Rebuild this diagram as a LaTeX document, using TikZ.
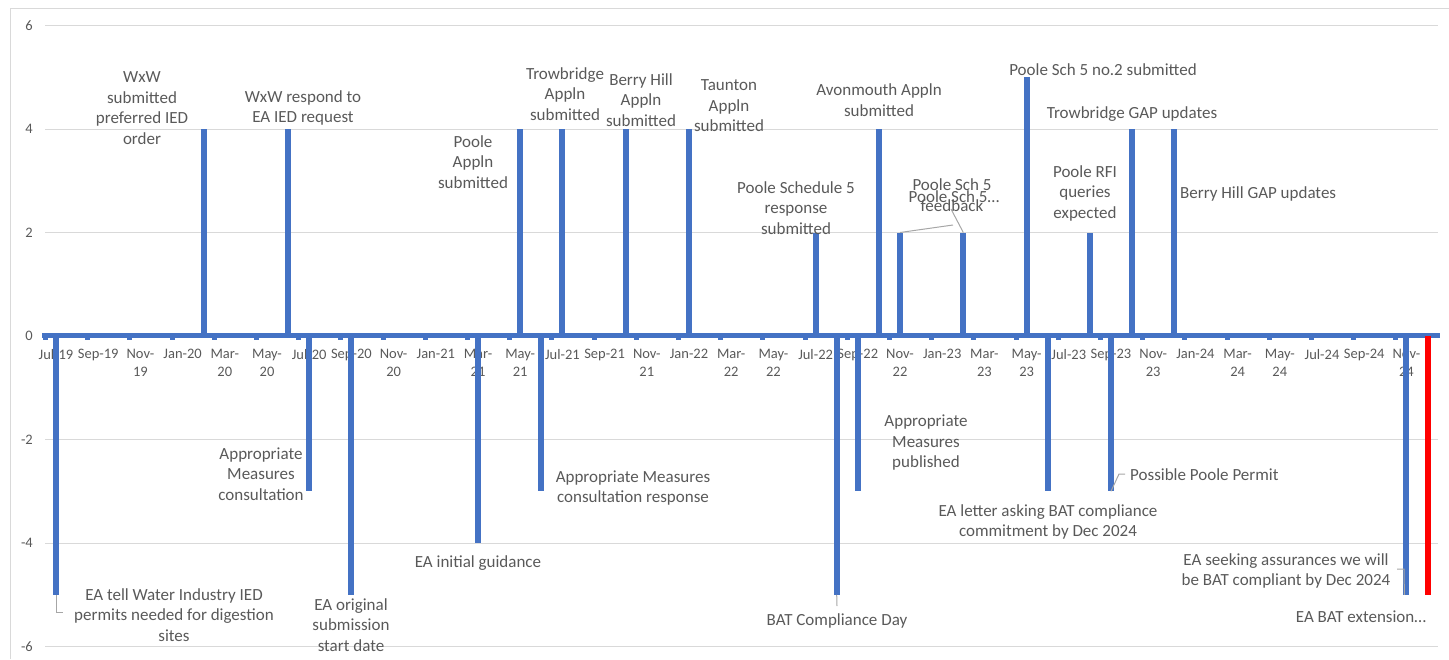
\documentclass[tikz,border=0pt]{standalone}
\usepackage{fontspec}
\setmainfont{Carlito}
\usepackage{tikz}

\definecolor{barblue}{HTML}{4472C4}
\definecolor{txtgray}{HTML}{595959}
\definecolor{gridgray}{HTML}{D9D9D9}
\definecolor{leadgray}{HTML}{A6A6A6}

\tikzset{
  bar/.style={line width=6pt, draw=barblue},
  gridline/.style={draw=gridgray, line width=1pt},
  leader/.style={draw=leadgray, line width=1pt},
  lbl/.style={text=txtgray, align=center, inner sep=0pt, font=\fontsize{17}{20.5}\selectfont},
  axlbl/.style={text=txtgray, align=center, inner sep=0pt, font=\fontsize{14.5}{18}\selectfont},
}

\begin{document}
\begin{tikzpicture}[x=1pt, y=-1pt]
            \useasboundingbox (0,0) rectangle (1449,659);
            % Frame
            \draw[gridgray] (10,659) -- (10,8) -- (1449,8);

            % Gridlines and values
            \foreach \v [count=\k] in {6,4,...,-6} {
                \draw[gridline] (45,{336-51.75*\v}) -- (1438,{336-51.75*\v});
                \node[axlbl, anchor=east] (yl\k) at (33,{336-51.75*\v}) {\v};
            }

            % Months
            \foreach \m/\t in {0/Jul-19, 2/Sep-19, 4/{Nov-\\19}, 6/Jan-20, 8/{Mar-\\20}, 10/{May-\\20},
                12/Jul-20, 14/Sep-20, 16/{Nov-\\20}, 18/Jan-21, 20/{Mar-\\21}, 22/{May-\\21},
                24/Jul-21, 26/Sep-21, 28/{Nov-\\21}, 30/Jan-22, 32/{Mar-\\22}, 34/{May-\\22},
                36/Jul-22, 38/Sep-22, 40/{Nov-\\22}, 42/Jan-23, 44/{Mar-\\23}, 46/{May-\\23},
                48/Jul-23, 50/Sep-23, 52/{Nov-\\23}, 54/Jan-24, 56/{Mar-\\24}, 58/{May-\\24},
                60/Jul-24, 62/Sep-24, 64/{Nov-\\24}} {
                \node[axlbl, anchor=north] (ax\m) at ({56+21.1*\m},349) {\t};
            }

            % Axis
            \draw[line width=5pt, barblue] (42,335.5) -- (1440,335.5);
            \foreach \k in {0,...,32} {
                \draw[line width=5pt, barblue] ({45.5+42.2*\k},336) -- ++(0,4);
            }

            % Bars
            \foreach \m/\v in {0/-5, 7/4, 11/4, 12/-3, 14/-5, 20/-4, 22/4, 23/-3, 24/4, 27/4, 30/4,
                36/2, 37/-5, 38/-3, 39/4, 40/2, 43/2, 46/5, 47/-3, 49/2, 50/-3, 51/4, 53/4, 64/-5} {
                \draw[bar] ({56+21.1*\m},336) -- ({56+21.1*\m},{336-51.75*\v}) coordinate (end\m);
            }
            \draw[bar, draw=red] ({56+21.1*65},336) -- ({56+21.1*65},{336+51.75*5}) coordinate (end65);

            % Leaders
            \coordinate (k0) at (56,612);
            \coordinate (k0b) at (63,612);
            \draw[leader] (end0) -- (k0) -- (k0b);
            \coordinate (k37) at (837,606);
            \draw[leader] (end37) -- (k37);
            \coordinate (k40) at (953,225);
            \draw[leader] (end40) -- (k40);
            \coordinate (k43) at (951,209);
            \draw[leader] (end43) -- (k43);
            \coordinate (k50) at (1119,474);
            \coordinate (k50b) at (1125,474);
            \draw[leader] (end50) -- (k50) -- (k50b);
            \coordinate (k64) at (1404,569);
            \coordinate (k64b) at (1397,569);
            \draw[leader] ([xshift=-2pt]end64) -- (k64) -- (k64b);

            % Labels above
            \node[lbl] (lFeb20) at (142,108) {WxW\\submitted\\preferred IED\\order};
            \node[lbl] (lJun20) at (303,108) {WxW respond to\\EA IED request};
            \node[lbl] (lMay21) at (473,162) {Poole\\Appln\\submitted};
            \node[lbl] (lJul21) at (565,94) {Trowbridge\\Appln\\submitted};
            \node[lbl] (lOct21) at (641,100) {Berry Hill\\Appln\\submitted};
            \node[lbl] (lJan22) at (729,106) {Taunton\\Appln\\submitted};
            \node[lbl] (lJul22) at (796,208) {Poole Schedule 5\\response\\submitted};
            \node[lbl] (lOct22) at (879,100) {Avonmouth Appln\\submitted};
            \node[lbl] (lFeb23) at (952,195) {Poole Sch 5\\feedback};
            \node[lbl] (lNov22) at (954,197) {Poole Sch 5…};
            \node[lbl] (lMay23) at (1103,70) {Poole Sch 5 no.2 submitted};
            \node[lbl] (lAug23) at (1085,193) {Poole RFI\\queries\\expected};
            \node[lbl] (lOct23) at (1132,114) {Trowbridge GAP updates};
            \node[lbl, anchor=west] (lDec23) at (1180,194) {Berry Hill GAP updates};

            % Labels below
            \node[lbl] (lJul19) at (174,615) {EA tell Water Industry IED\\permits needed for digestion\\sites};
            \node[lbl] (lJul20) at (261,474) {Appropriate\\Measures\\consultation};
            \node[lbl] (lSep20) at (351,625) {EA original\\submission\\start date};
            \node[lbl] (lMar21) at (478,563) {EA initial guidance};
            \node[lbl] (lJun21) at (633,488) {Appropriate Measures\\consultation response};
            \node[lbl] (lAug22) at (837,621) {BAT Compliance Day};
            \node[lbl] (lSep22) at (926,443) {Appropriate\\Measures\\published};
            \node[lbl] (lJun23) at (1048,522) {EA letter asking BAT compliance\\commitment by Dec 2024};
            \node[lbl, anchor=west] (lSep23) at (1130,475) {Possible Poole Permit};
            \node[lbl] (lNov24) at (1286,571) {EA seeking assurances we will\\be BAT compliant by Dec 2024};
            \node[lbl] (lDec24) at (1361,617) {EA BAT extension…};
\end{tikzpicture}
\end{document}
